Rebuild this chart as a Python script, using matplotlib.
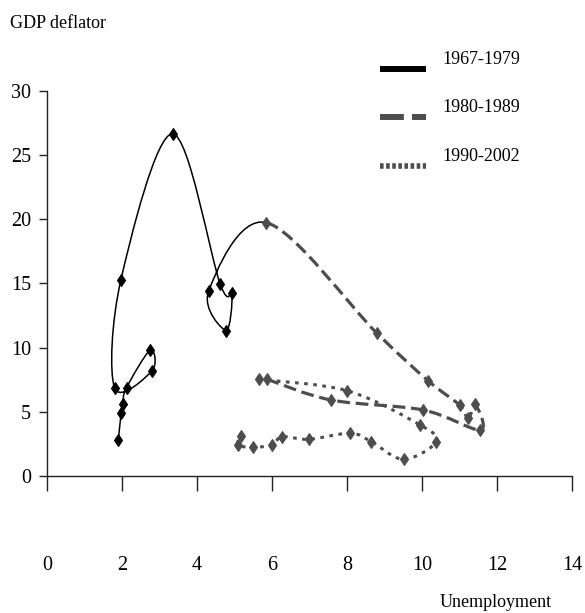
import numpy as np
import matplotlib
matplotlib.use('Agg')
import matplotlib.pyplot as plt
from matplotlib.path import Path
from matplotlib.patches import PathPatch
from matplotlib.lines import Line2D

# unemployment (x) and GDP deflator (y)
u_6779 = [1.90, 1.98, 2.02, 2.12, 2.75, 2.80, 1.80, 1.97, 3.35, 4.62, 4.93, 4.78, 4.31]
p_6779 = [2.80, 4.93, 5.61, 6.88, 9.81, 8.18, 6.88, 15.26, 26.64, 14.93, 14.23, 11.32, 14.38]

u_8089 = [5.85, 8.80, 10.17, 11.00, 11.23, 11.42, 11.55, 10.03, 7.57, 5.87]
p_8089 = [19.73, 11.11, 7.40, 5.53, 4.49, 5.58, 3.58, 5.14, 5.92, 7.53]

u_9002 = [5.64, 8.00, 9.95, 10.38, 9.51, 8.65, 8.09, 6.98, 6.27, 6.00, 5.48, 5.09, 5.17]
p_9002 = [7.53, 6.64, 3.97, 2.67, 1.30, 2.67, 3.33, 2.86, 3.06, 2.41, 2.24, 2.41, 3.14]

labels = ['1967-1979', '1980-1989', '1990-2002']
xticks = [0, 2, 4, 6, 8, 10, 12, 14]
yticks = [0, 5, 10, 15, 20, 25, 30]

GRAY = '#4d4d4d'
FONT = 'Liberation Serif'


def smooth_path(pts, start, stop, lo, hi):
    # excel style smoothed line, bezier segments start..stop,
    # neighbours for the tangents are taken between lo and hi only
    verts = [pts[start]]
    codes = [Path.MOVETO]
    for i in range(start, stop):
        p0 = pts[max(i - 1, lo)]
        p1 = pts[i]
        p2 = pts[i + 1]
        p3 = pts[min(i + 2, hi)]
        c1 = p1 + (p2 - p0) / 6.0
        c2 = p2 - (p3 - p1) / 6.0
        verts += [c1, c2, p2]
        codes += [Path.CURVE4] * 3
    return Path(verts, codes)


def main():
    plt.rcParams['font.family'] = FONT
    fig = plt.figure(figsize=(5.85, 6.13), dpi=100)
    ax = fig.add_axes([47 / 585, 1 - 476 / 613, 525 / 585, (476 - 90.7) / 613])

    pts = np.column_stack([u_6779 + u_8089 + u_9002, p_6779 + p_8089 + p_9002])
    n1 = len(u_6779)
    n2 = n1 + len(u_8089)
    n3 = len(pts) - 1

    # 1967-79 runs on into 1980, the 80s and 90s are separate lines
    ax.add_patch(PathPatch(smooth_path(pts, 0, n1, 0, n1 + 1), fill=False,
                           edgecolor='black', lw=1.1, capstyle='butt'))
    ax.add_patch(PathPatch(smooth_path(pts, n1, n2 - 1, n1 - 1, n2 - 1), fill=False,
                           edgecolor=GRAY, lw=2.3, linestyle=(0, (4.0, 1.8)),
                           capstyle='butt'))
    ax.add_patch(PathPatch(smooth_path(pts, n2, n3, n2, n3), fill=False,
                           edgecolor=GRAY, lw=2.2, linestyle=(0, (1.2, 1.8)),
                           capstyle='butt'))

    ax.plot(u_6779, p_6779, ls='none', marker='d', ms=6.0, color='black', mew=0.8)
    ax.plot(u_8089, p_8089, ls='none', marker='d', ms=6.0, color=GRAY, mew=0.8)
    ax.plot(u_9002, p_9002, ls='none', marker='d', ms=6.0, color=GRAY, mew=0.8)

    ax.set_xlim(0, 14)
    ax.set_ylim(0, 30)
    ax.set_xticks(xticks)
    ax.set_yticks(yticks)
    ax.set_xticklabels([str(t) for t in xticks])
    ax.set_yticklabels([str(t) for t in yticks])
    for s in ['top', 'right']:
        ax.spines[s].set_visible(False)
    for s in ['left', 'bottom']:
        ax.spines[s].set_linewidth(1.0)
        ax.spines[s].set_color('#222222')
    ax.tick_params(axis='x', direction='out', length=10.8, width=1.0, pad=47,
                   labelsize=14.5, colors='#222222', labelcolor='black')
    ax.tick_params(axis='y', direction='out', length=5.5, width=1.0, pad=6,
                   labelsize=14.5, colors='#222222', labelcolor='black')
    ax.patch.set_visible(False)

    fig.text(10 / 585, 1 - 24 / 613, 'GDP deflator', fontsize=13, va='center', ha='left')
    fig.text(440 / 585, 1 - 607 / 613, 'Unemployment', fontsize=13, va='baseline', ha='left')

    # legend
    styles = [dict(color='black', lw=4.3, ls='-'),
              dict(color=GRAY, lw=4.3, ls=(0, (4.0, 1.35))),
              dict(color=GRAY, lw=4.0, ls=(0, (0.65, 0.45)))]
    line_y = [69, 117, 166]
    text_y = [60, 108, 157]
    for lab, st, ly, ty in zip(labels, styles, line_y, text_y):
        fig.add_artist(Line2D([380 / 585, 426 / 585], [1 - ly / 613, 1 - ly / 613],
                              solid_capstyle='butt', dash_capstyle='butt', **st))
        fig.text(442 / 585, 1 - ty / 613, lab, fontsize=13, va='center', ha='left')

    fig.savefig('out.png', dpi=100)


if __name__ == '__main__':
    main()
